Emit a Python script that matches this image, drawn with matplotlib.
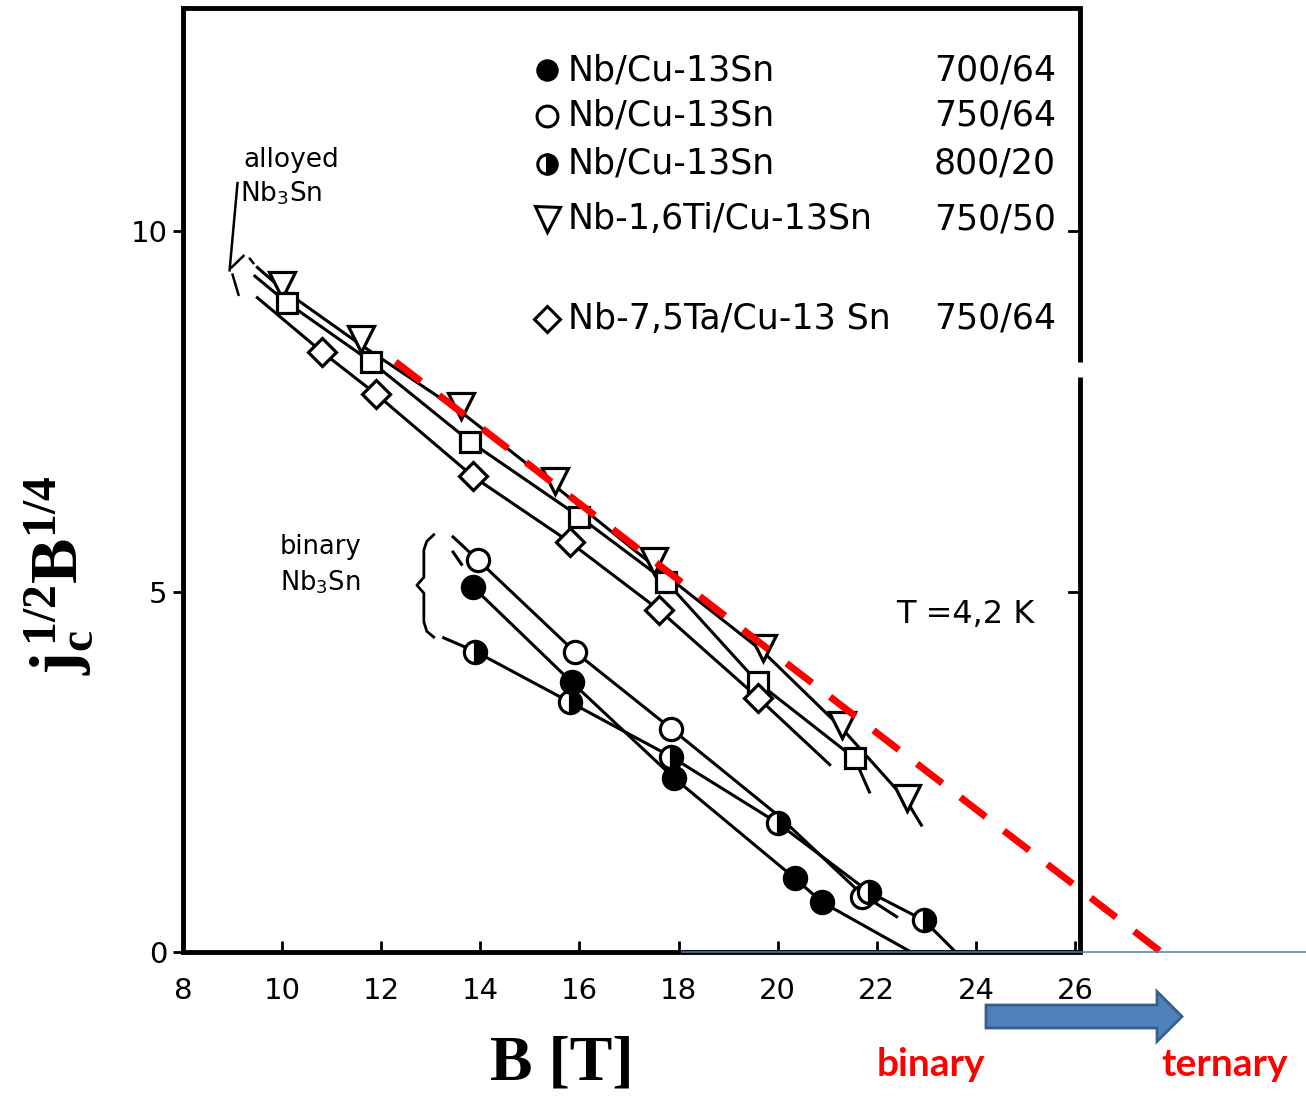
import matplotlib
matplotlib.use('Agg')
import matplotlib.pyplot as plt
from matplotlib.patches import FancyArrow

plt.rcParams['font.family'] = ['DejaVu Sans']
plt.rcParams['mathtext.fontset'] = 'custom'
plt.rcParams['mathtext.rm'] = 'Liberation Serif'
plt.rcParams['mathtext.bf'] = 'Liberation Serif:bold'
plt.rcParams['mathtext.it'] = 'Liberation Serif:italic'

# ---------------- data ----------------
# Nb-1,6Ti/Cu-13Sn 750/50 (down triangles)
ti_x = [10.0, 11.6, 13.6, 15.5, 17.5, 19.7, 21.3, 22.6]
ti_y = [9.26, 8.50, 7.57, 6.53, 5.42, 4.22, 3.15, 2.14]
ti_curve_x = [9.5, 10.0, 11.6, 13.6, 15.5, 17.5, 19.7, 21.3, 22.6, 22.9]
ti_curve_y = [9.50, 9.20, 8.42, 7.50, 6.47, 5.36, 4.17, 3.10, 2.10, 1.76]

# unlabeled squares
sq_x = [10.1, 11.8, 13.8, 16.0, 17.75, 19.6, 21.55]
sq_y = [9.01, 8.19, 7.08, 6.04, 5.14, 3.74, 2.69]
sq_curve_x = [9.45, 10.1, 11.8, 13.8, 16.0, 17.75, 19.6, 21.55, 21.85]
sq_curve_y = [9.38, 9.01, 8.19, 7.08, 6.04, 5.14, 3.74, 2.69, 2.22]

# Nb-7,5Ta/Cu-13Sn 750/64 (diamonds)
ta_x = [10.8, 11.9, 13.85, 15.8, 17.6, 19.6]
ta_y = [8.33, 7.74, 6.60, 5.69, 4.75, 3.53]
ta_curve_x = [9.5, 10.8, 11.9, 13.85, 15.8, 17.6, 19.6, 21.05]
ta_curve_y = [9.08, 8.33, 7.74, 6.60, 5.69, 4.75, 3.53, 2.60]

# Nb/Cu-13Sn 700/64 (filled circles)
f_x = [13.86, 15.85, 17.9, 20.35, 20.9]
f_y = [5.06, 3.74, 2.42, 1.02, 0.69]
f_curve_x = [13.86, 15.85, 17.9, 20.35, 20.9, 22.69]
f_curve_y = [5.06, 3.74, 2.42, 1.02, 0.69, 0.0]
f_dash_x = [13.45, 13.62]
f_dash_y = [5.55, 5.38]

# Nb/Cu-13Sn 750/64 (open circles)
o_x = [13.95, 15.9, 17.85, 21.7]
o_y = [5.44, 4.17, 3.10, 0.76]
o_curve_x = [13.45, 13.95, 15.9, 17.85, 20.0, 21.7, 22.4]
o_curve_y = [5.76, 5.44, 4.17, 3.10, 1.90, 0.80, 0.49]

# Nb/Cu-13Sn 800/20 (half-filled circles)
h_x = [13.9, 15.8, 17.85, 20.0, 21.85, 22.95]
h_y = [4.17, 3.47, 2.71, 1.79, 0.83, 0.44]
h_curve_x = [13.26, 13.9, 15.8, 17.85, 20.0, 21.85, 22.95, 23.59]
h_curve_y = [4.36, 4.17, 3.47, 2.71, 1.79, 0.83, 0.44, 0.0]

# red dashed guide line
red_x = [12.29, 28.0]
red_y = [8.19, -0.14]
# thin blue baseline
blue_x = [18.07, 31.0]
blue_y = [0.0, 0.0]

x_ticks = [8, 10, 12, 14, 16, 18, 20, 22, 24, 26]
y_ticks = [0, 5, 10]

legend_names = ['Nb/Cu-13Sn', 'Nb/Cu-13Sn', 'Nb/Cu-13Sn',
                'Nb-1,6Ti/Cu-13Sn', 'Nb-7,5Ta/Cu-13 Sn']
legend_codes = ['700/64', '750/64', '800/20', '750/50', '750/64']

# ---------------- figure ----------------
W, H = 1306, 1096
fig = plt.figure(figsize=(W / 100, H / 100), dpi=100)
ax = fig.add_axes([183 / W, 1 - 952 / H, (1080 - 183) / W, (952 - 8) / H])
ax.set_xlim(8.1, 26.1)
ax.set_ylim(0, 13.1)

lw = 2.2
k = 'black'
# curves
ax.plot(ti_curve_x, ti_curve_y, color=k, lw=lw)
ax.plot(sq_curve_x, sq_curve_y, color=k, lw=lw)
ax.plot(ta_curve_x, ta_curve_y, color=k, lw=lw)
ax.plot(f_curve_x, f_curve_y, color=k, lw=lw)
ax.plot(f_dash_x, f_dash_y, color=k, lw=lw)
ax.plot(o_curve_x, o_curve_y, color=k, lw=lw)
ax.plot(h_curve_x, h_curve_y, color=k, lw=lw)

mew = 2.3
ax.plot(ti_x, ti_y, 'v', ms=19, mfc='white', mec=k, mew=mew, ls='none', zorder=4)
ax.plot(sq_x, sq_y, 's', ms=15, mfc='white', mec=k, mew=mew, ls='none', zorder=4)
ax.plot(ta_x, ta_y, 'D', ms=14, mfc='white', mec=k, mew=mew, ls='none', zorder=4)
ax.plot(o_x, o_y, 'o', ms=16, mfc='white', mec=k, mew=mew, ls='none', zorder=4)
ax.plot(h_x, h_y, 'o', ms=16, mfc=k, mfcalt='white', fillstyle='right',
        mec=k, mew=mew, ls='none', zorder=4)
ax.plot(f_x, f_y, 'o', ms=16, mfc=k, mec=k, mew=mew, ls='none', zorder=4)

# red dashed line and blue baseline
ax.plot(red_x, red_y, color='#ff0000', lw=5, ls=(0, (4.6, 3.3)), clip_on=False, zorder=6)
ax.plot(blue_x, blue_y, color='#4a7ebb', lw=1.1, clip_on=False, zorder=7)

# annotations for alloyed Nb3Sn
ax.text(9.22, 10.99, 'alloyed', fontsize=19, va='center', ha='left')
ax.text(9.16, 10.53, r'Nb$_{\mathsf{3}}$Sn', fontsize=19, va='center', ha='left')
ax.plot([9.10, 8.94], [10.67, 9.46], color=k, lw=1.8)
ax.plot([8.98, 9.22], [9.50, 9.66], color=k, lw=1.8)
ax.plot([9.0, 9.12], [9.40, 9.12], color=k, lw=1.8)
ax.plot([9.35, 9.42], [9.62, 9.56], color=k, lw=1.8)

# annotations for binary Nb3Sn
ax.text(9.95, 5.62, 'binary', fontsize=18.5, va='center', ha='left')
ax.text(9.95, 5.13, r'Nb$_{\mathsf{3}}$Sn', fontsize=18.5, va='center', ha='left')
brace_x = [13.06, 12.92, 12.86, 12.86, 12.72, 12.86, 12.86, 12.92, 13.06]
brace_y = [5.79, 5.70, 5.58, 5.20, 5.09, 4.98, 4.58, 4.45, 4.37]
ax.plot(brace_x, brace_y, color=k, lw=2.0)

ax.text(22.39, 4.68, 'T =4,2 K', fontsize=23, va='center', ha='left')

# legend (manual)
leg_y = [0.934, 0.886, 0.835, 0.776, 0.671]
leg_styles = [dict(marker='o', mfc=k, ms=14),
              dict(marker='o', mfc='white', ms=15),
              dict(marker='o', mfc=k, mfcalt='white', fillstyle='right', ms=14),
              dict(marker='v', mfc='white', ms=18),
              dict(marker='D', mfc='white', ms=13)]
for yy, st, name, code in zip(leg_y, leg_styles, legend_names, legend_codes):
    ax.plot([0.406], [yy], transform=ax.transAxes, mec=k, mew=2.2, ls='none',
            clip_on=False, **st)
    ax.text(0.429, yy, name, transform=ax.transAxes, fontsize=25, va='center', ha='left')
    ax.text(0.973, yy, code, transform=ax.transAxes, fontsize=25, va='center', ha='right')

# axes styling
for s in ['left', 'bottom', 'top']:
    ax.spines[s].set_linewidth(3.5)
ax.spines['right'].set_visible(False)
ax.plot([1, 1], [0, 0.609], transform=ax.transAxes, color=k, lw=3.5, clip_on=False,
        solid_capstyle='butt')
ax.plot([1, 1], [0.625, 1.0], transform=ax.transAxes, color=k, lw=3.5, clip_on=False,
        solid_capstyle='butt')

ax.set_xticks(x_ticks)
ax.set_yticks(y_ticks)
ax.tick_params(axis='x', direction='in', length=8, width=2, pad=18, labelsize=21, top=False)
ax.tick_params(axis='y', which='major', left=True, right=False, direction='out',
               length=7, width=2, pad=4, labelsize=21)
# inward ticks on right spine
for yt in [5, 10]:
    ax.plot([0.988, 1.0], [yt, yt], color=k, lw=2,
            transform=ax.get_yaxis_transform(), clip_on=False)

# axis labels
fig.text(60 / W, 1 - 575 / H, r'$\mathbf{j_c^{\,1/2}B^{1/4}}$', rotation=90,
         fontsize=49, ha='center', va='center')
fig.text(562 / W, 1 - 1065 / H, 'B [T]', fontsize=46, fontweight='bold',
         family='Liberation Serif', ha='center', va='center')

# binary -> ternary arrow
arr = FancyArrow(986 / W, 1 - 1016.5 / H, (1182 - 986) / W, 0,
                 width=23 / H, head_width=50 / H, head_length=25 / W,
                 length_includes_head=True, transform=fig.transFigure,
                 facecolor='#4F81BD', edgecolor='#385D8A', lw=2)
fig.patches.append(arr)
fig.text(931 / W, 1 - 1065 / H, 'binary', color='#ff0000', fontsize=28,
         fontweight='bold', family='Lato', ha='center', va='center')
fig.text(1225 / W, 1 - 1065 / H, 'ternary', color='#ff0000', fontsize=28,
         fontweight='bold', family='Lato', ha='center', va='center')

fig.savefig('out.png', dpi=100, facecolor='white')
